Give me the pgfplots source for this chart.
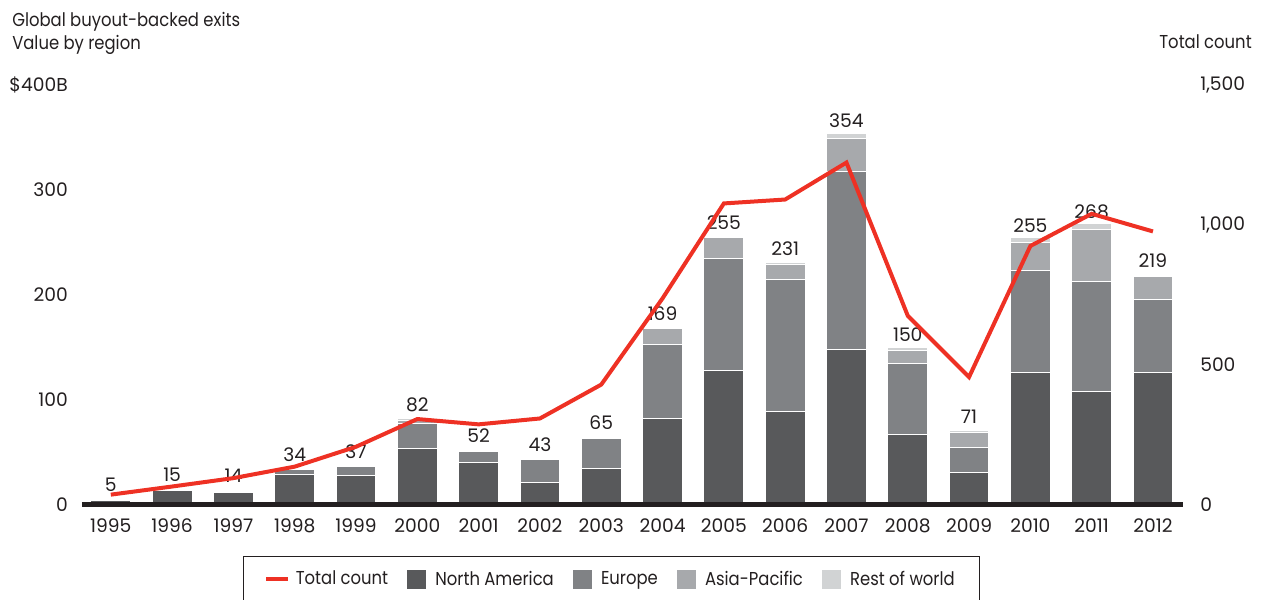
\documentclass[border=0pt]{standalone}
\usepackage{fontspec}
\setmainfont{Poppins}
\newfontfamily\txtf{Poppins}[FakeStretch=0.88]
\usepackage{pgfplots}
\usepackage{pgfplotstable}
\pgfplotsset{compat=1.18}
\definecolor{na}{HTML}{58595B}
\definecolor{eu}{HTML}{808285}
\definecolor{ap}{HTML}{A7A9AC}
\definecolor{rw}{HTML}{D1D3D4}
\definecolor{redl}{HTML}{EE3124}
\definecolor{txt}{HTML}{231F20}
\pgfplotstableread{
x na eu ap rw total count
0 4 1 0 0.4 5 37
1 14 1 0 0.4 15 66
2 12 1 1 0.4 14 96
3 29 5 0 0.4 34 137
4 28 9 0 0.4 37 208
5 54 24 2 2 82 307
6 40 11 1 0.4 52 288
7 21 22 0 0.4 43 309
8 35 28 1 1 65 430
9 82 71 15 1 169 738
10 128 107 20 0.4 255 1077
11 89 126 14 2 231 1091
12 148 170 31 5 354 1223
13 67 68 12 3 150 676
14 31 24 14 2 71 457
15 126 97 27 5 255 925
16 108 105 49 6 268 1040
17 126 70 22 1 219 977
}\data
\begin{document}
\fontsize{14pt}{17pt}\selectfont
\begin{tikzpicture}[font=\fontsize{14pt}{17pt}\selectfont, text=txt]
\path[use as bounding box] (-61.5pt,-70.5pt) rectangle (885pt,378.75pt);
\begin{axis}[
  at={(0pt,0pt)}, anchor=south west,
  scale only axis, width=825.75pt, height=315pt,
  xmin=-0.47, xmax=17.49, ymin=0, ymax=400,
  ybar stacked, bar width=0.65,
  axis y line*=left, axis x line*=bottom,
  y axis line style={draw=none},
  x axis line style={line width=3.75pt, draw=txt, -},
  major tick length=0pt,
  xtick={0,...,17},
  xticklabels={1995,1996,1997,1998,1999,2000,2001,2002,2003,2004,2005,2006,2007,2008,2009,2010,2011,2012},
  ytick={0,100,200,300,400}, yticklabels={0,100,200,300,\$400B},
  yticklabel style={anchor=east, inner sep=0pt, xshift=-10.5pt, text=txt},
  xticklabel style={anchor=north, inner sep=0pt, yshift=-9.75pt, text=txt},
  axis on top, clip=false,
  /pgf/number format/assume math mode=true,
]
\addplot[fill=na, draw=white, line width=0.75pt] table[x=x,y=na]{\data};
\addplot[fill=eu, draw=white, line width=0.75pt] table[x=x,y=eu]{\data};
\addplot[fill=ap, draw=white, line width=0.75pt] table[x=x,y=ap]{\data};
\addplot[fill=rw, draw=white, line width=0.75pt, nodes near coords, point meta=explicit,
  nodes near coords style={anchor=south, inner sep=0pt, yshift=5.5pt, text=txt}]
  table[x=x,y=rw,meta=total]{\data};
\end{axis}
\begin{axis}[
  at={(0pt,0pt)}, anchor=south west,
  scale only axis, width=825.75pt, height=315pt,
  xmin=-0.47, xmax=17.49, ymin=0, ymax=1500,
  hide x axis, axis y line*=right, y axis line style={draw=none},
  major tick length=0pt,
  ytick={0,500,1000,1500}, yticklabels={0,500,{1,000},{1,500}},
  yticklabel style={anchor=west, inner sep=0pt, xshift=12.75pt, text=txt},
  clip=false,
  legend columns=5,
  legend style={at={(0.1462,-0.1214)}, anchor=north west, draw=txt, line width=0.75pt,
    inner xsep=15.75pt, inner ysep=7.75pt, font=\txtf,
    /tikz/every even column/.append style={column sep=11pt},
    nodes={inner sep=3pt, text=txt}},
]
\addplot[redl, line width=3pt, line join=miter, mark=none,
  legend image code/.code={\draw[redl, line width=3pt] (0pt,0pt) -- (16.5pt,0pt); \path[draw=none,fill=none] (0pt,0pt) -- (19pt,0pt);}]
  table[x=x,y=count]{\data};
\addlegendimage{legend image code/.code={\fill[na] (0pt,-6.75pt) rectangle (13.5pt,6.75pt); \path[draw=none,fill=none] (0pt,0pt) -- (18pt,0pt);}}
\addlegendimage{legend image code/.code={\fill[eu] (0pt,-6.75pt) rectangle (13.5pt,6.75pt); \path[draw=none,fill=none] (0pt,0pt) -- (18pt,0pt);}}
\addlegendimage{legend image code/.code={\fill[ap] (0pt,-6.75pt) rectangle (13.5pt,6.75pt); \path[draw=none,fill=none] (0pt,0pt) -- (18pt,0pt);}}
\addlegendimage{legend image code/.code={\fill[rw] (0pt,-6.75pt) rectangle (13.5pt,6.75pt); \path[draw=none,fill=none] (0pt,0pt) -- (18pt,0pt);}}
\legend{Total count, North America, Europe, Asia-Pacific, Rest of world}
\end{axis}
\node[anchor=base west, inner sep=0pt, font=\txtf] at (-52.5pt,358.5pt) {Global buyout-backed exits};
\node[anchor=base west, inner sep=0pt, font=\txtf] at (-52.5pt,341.25pt) {Value by region};
\node[anchor=base east, inner sep=0pt, font=\txtf] at (877.5pt,342pt) {Total count};
\end{tikzpicture}
\end{document}
